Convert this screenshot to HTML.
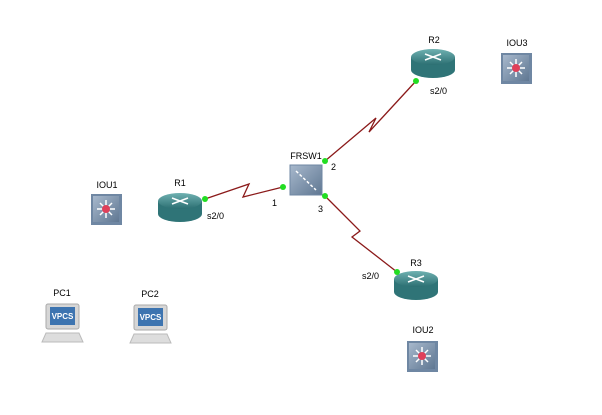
<!DOCTYPE html>
<html><head><style>body{margin:0;background:#fff}svg{display:block}text{font-family:"Liberation Sans",sans-serif;font-size:9px;fill:#000}</style></head><body>
<svg width="602" height="415" viewBox="0 0 602 415">
<defs>
<linearGradient id="rt" x1="0" y1="0" x2="0" y2="1"><stop offset="0" stop-color="#6fb1b1"/><stop offset="1" stop-color="#2c6f72"/></linearGradient>
<linearGradient id="sw" x1="0" y1="0" x2="1" y2="1"><stop offset="0" stop-color="#a7b8cc"/><stop offset="1" stop-color="#5f7792"/></linearGradient>
<g id="router"><path d="M0 9 v13 a22 8 0 0 0 44 0 v-13z" fill="#2f7477"/><ellipse cx="22" cy="9" rx="22" ry="8" fill="url(#rt)"/><path d="M14 6 l16 6 M30 6 l-16 6" stroke="#fff" stroke-width="1.5"/></g>
<g id="iou"><rect x="0" y="0" width="31" height="31" fill="#6f87a3"/><rect x="2" y="2" width="26" height="26" fill="url(#sw)"/><g stroke="#fff" stroke-width="1.5"><path d="M15 6v18M6 15h18M9 9l12 12M21 9l-12 12"/></g><circle cx="15" cy="15" r="4" fill="#e0405a"/></g>
<g id="pc"><rect x="4" y="0" width="33" height="25" rx="2" fill="#d6d6d6" stroke="#aaa"/><rect x="8" y="3" width="25" height="18" fill="#3d74b0"/><text x="20.5" y="15" text-anchor="middle" style="font-size:8px;font-weight:bold;fill:#fff">VPCS</text><path d="M4 29h33l4 9h-41z" fill="#ddd" stroke="#bbb"/></g>
</defs>
<g stroke="#8b1a1a" stroke-width="1.3" fill="none">
<polyline points="205,199 249,184 243,197 283,187"/>
<polyline points="325,161 376,118 369,132 416,81"/>
<polyline points="325,196 360,231 352,237 397,272"/>
</g>
<use href="#router" x="158" y="192"/>
<use href="#router" x="411" y="48"/>
<use href="#router" x="394" y="270"/>
<rect x="290" y="165" width="32" height="30" fill="url(#sw)" stroke="#6f87a3"/>
<path d="M296 171l20 19" stroke="#fff" stroke-width="1.5" stroke-dasharray="3,2"/>
<use href="#iou" x="91" y="194"/>
<use href="#iou" x="501" y="53"/>
<use href="#iou" x="407" y="341"/>
<use href="#pc" x="42" y="304"/>
<use href="#pc" x="130" y="305"/>
<g fill="#22dd22"><circle cx="205" cy="199" r="3"/><circle cx="283" cy="187" r="3"/><circle cx="325" cy="161" r="3"/><circle cx="325" cy="196" r="3"/><circle cx="416" cy="81" r="3"/><circle cx="397" cy="272" r="3"/></g>
<text x="180" y="186" text-anchor="middle">R1</text>
<text x="434" y="43" text-anchor="middle">R2</text>
<text x="416" y="266" text-anchor="middle">R3</text>
<text x="306" y="159" text-anchor="middle">FRSW1</text>
<text x="107" y="188" text-anchor="middle">IOU1</text>
<text x="517" y="46" text-anchor="middle">IOU3</text>
<text x="423" y="333" text-anchor="middle">IOU2</text>
<text x="62" y="296" text-anchor="middle">PC1</text>
<text x="150" y="297" text-anchor="middle">PC2</text>
<text x="207" y="219">s2/0</text>
<text x="430" y="94">s2/0</text>
<text x="362" y="279">s2/0</text>
<text x="272" y="206">1</text>
<text x="331" y="170">2</text>
<text x="318" y="212">3</text>
</svg>
</body></html>
